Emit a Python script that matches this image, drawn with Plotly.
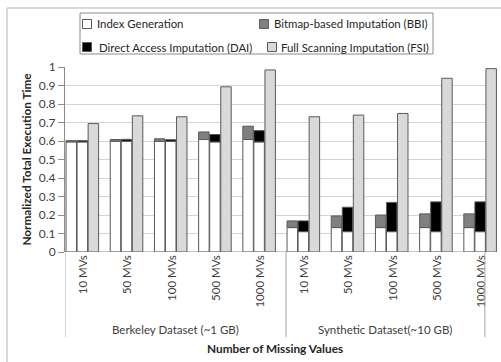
import plotly.graph_objects as go

# ---------------- data ----------------
groups = ["Berkeley Dataset (~1 GB)", "Synthetic Dataset(~10 GB)"]
categories = ["10 MVs", "50 MVs", "100 MVs", "500 MVs", "1000 MVs",
              "10 MVs", "50 MVs", "100 MVs", "500 MVs", "1000 MVs"]

# Index generation time underneath the BBI bar and the DAI bar
index_gen_bbi = [0.595, 0.599, 0.598, 0.608, 0.608, 0.132, 0.132, 0.132, 0.132, 0.132]
index_gen_dai = [0.595, 0.599, 0.598, 0.595, 0.595, 0.110, 0.110, 0.110, 0.110, 0.110]
# total heights of stacked bars
bbi_total = [0.602, 0.608, 0.612, 0.649, 0.680, 0.168, 0.195, 0.200, 0.206, 0.206]
dai_total = [0.602, 0.609, 0.607, 0.635, 0.656, 0.168, 0.242, 0.268, 0.271, 0.271]
fsi_total = [0.694, 0.736, 0.731, 0.893, 0.984, 0.731, 0.740, 0.749, 0.939, 0.991]

y_ticks = [0, 0.1, 0.2, 0.3, 0.4, 0.5, 0.6, 0.7, 0.8, 0.9, 1]
legend_names = ["Index Generation", "Bitmap-based Imputation (BBI)",
                "Direct Access Imputation (DAI)", "Full Scanning Imputation (FSI)"]

# ---------------- layout geometry ----------------
FW, FH = 501, 362
L, R, T, B = 65, 497, 67, 252
PW, PH = R - L, B - T
SLOT = 44.2                      # pixels per category slot
XMAX = PW / SLOT
BAR_W = 0.237
OFFS = [0.142, 0.392, 0.642]     # bar centres inside a slot
LABEL_OFF = 0.42
GROUP_EDGES = [0, 5, len(categories) - 0.5]

FONT = "Lato, 'Open Sans', sans-serif"
OUTLINE = "#5a5a5a"
COL_IG, COL_BBI, COL_DAI, COL_FSI = "#ffffff", "#808080", "#000000", "#d9d9d9"
AX = "#8c8c8c"
TXT = "#404040"
DARK = "#262626"

def xp(px):   # pixel x -> paper x
    return (px - L) / PW

def yp(py):   # pixel y -> paper y
    return (B - py) / PH

n = len(categories)
idx = list(range(n))
x_bbi = [i + OFFS[0] for i in idx]
x_dai = [i + OFFS[1] for i in idx]
x_fsi = [i + OFFS[2] for i in idx]

bbi_part = [t - b for t, b in zip(bbi_total, index_gen_bbi)]
dai_part = [t - b for t, b in zip(dai_total, index_gen_dai)]

line = dict(color=OUTLINE, width=1)
fig = go.Figure()
fig.add_bar(x=x_bbi, y=index_gen_bbi, width=BAR_W, name=legend_names[0],
            marker=dict(color=COL_IG, line=line), showlegend=False)
fig.add_bar(x=x_bbi, y=bbi_part, base=index_gen_bbi, width=BAR_W, name=legend_names[1],
            marker=dict(color=COL_BBI, line=line), showlegend=False)
fig.add_bar(x=x_dai, y=index_gen_dai, width=BAR_W, name=legend_names[0],
            marker=dict(color=COL_IG, line=line), showlegend=False)
fig.add_bar(x=x_dai, y=dai_part, base=index_gen_dai, width=BAR_W, name=legend_names[2],
            marker=dict(color=COL_DAI, line=line), showlegend=False)
fig.add_bar(x=x_fsi, y=fsi_total, width=BAR_W, name=legend_names[3],
            marker=dict(color=COL_FSI, line=line), showlegend=False)

shapes = []
annotations = []

# chart outer border (cropped on right/bottom)
shapes.append(dict(type="line", xref="paper", yref="paper", x0=xp(7), x1=xp(FW + 5),
                   y0=yp(8), y1=yp(8), line=dict(color="#b3b3b3", width=1)))
shapes.append(dict(type="line", xref="paper", yref="paper", x0=xp(7), x1=xp(7),
                   y0=yp(8), y1=yp(FH + 5), line=dict(color="#b3b3b3", width=1)))

# category axis line and group dividers
shapes.append(dict(type="line", xref="x", yref="y", x0=0, x1=GROUP_EDGES[-1], y0=0, y1=0,
                   line=dict(color=AX, width=1)))
for e in GROUP_EDGES:
    shapes.append(dict(type="line", xref="x", yref="paper", x0=e, x1=e,
                       y0=0, y1=yp(337), line=dict(color="#a6a6a6", width=1)))

# group labels
for gi, g in enumerate(groups):
    cx = (GROUP_EDGES[gi] + GROUP_EDGES[gi + 1]) / 2
    annotations.append(dict(text=g, x=cx, y=yp(329), xref="x", yref="paper",
                            showarrow=False, xanchor="center", yanchor="middle",
                            font=dict(family=FONT, size=11.5, color=TXT)))
# x-axis title
annotations.append(dict(text="<b>Number of Missing Values</b>", x=GROUP_EDGES[-1] / 2,
                        y=yp(348), xref="x", yref="paper", showarrow=False,
                        xanchor="center", yanchor="middle",
                        font=dict(family=FONT, size=11.8, color=DARK)))

# legend (drawn manually to match the compact original)
shapes.append(dict(type="rect", xref="paper", yref="paper", x0=xp(80), x1=xp(433),
                   y0=yp(13), y1=yp(54), line=dict(color="#8c8c8c", width=1),
                   fillcolor="white"))
leg_items = [
    (legend_names[0], COL_IG, 87, 24, 95),
    (legend_names[1], COL_BBI, 264, 24, 272),
    (legend_names[2], COL_DAI, 87, 47, 97),
    (legend_names[3], COL_FSI, 272, 47, 279),
]
for name, col, sx, sy, tx in leg_items:
    shapes.append(dict(type="rect", xref="paper", yref="paper",
                       x0=xp(sx - 4.5), x1=xp(sx + 4.5), y0=yp(sy + 4.5), y1=yp(sy - 4.5),
                       fillcolor=col, line=dict(color=OUTLINE, width=1)))
    annotations.append(dict(text=name, x=xp(tx), y=yp(sy), xref="paper", yref="paper",
                            showarrow=False, xanchor="left", yanchor="middle",
                            font=dict(family=FONT, size=11.4, color=DARK)))

fig.update_layout(
    width=FW, height=FH,
    margin=dict(l=L, r=FW - R, t=T, b=FH - B, pad=0),
    barmode="overlay",
    plot_bgcolor="white", paper_bgcolor="white",
    font=dict(family=FONT, size=11.5, color=TXT),
    shapes=shapes, annotations=annotations,
    showlegend=False,
    xaxis=dict(range=[0, XMAX], tickmode="array",
               tickvals=[i + LABEL_OFF for i in idx], ticktext=categories,
               tickangle=-90, ticks="", showgrid=False, zeroline=False, showline=False,
               tickfont=dict(family=FONT, size=11.5, color=TXT)),
    yaxis=dict(range=[0, 1], tickmode="array", tickvals=y_ticks,
               ticktext=[f"{v:g}" for v in y_ticks],
               showgrid=True, gridcolor="#d4d4d4", gridwidth=1, zeroline=False,
               showline=True, linecolor=AX, linewidth=1,
               ticks="outside", ticklen=6, tickcolor=AX,
               tickfont=dict(family=FONT, size=12, color=TXT),
               title=dict(text="<b>Normalized Total Execution Time</b>", standoff=4,
                          font=dict(family=FONT, size=11.8, color=DARK))),
)

fig.write_html("out.html", config={"displayModeBar": False},
               post_script="document.body.style.margin='0';document.body.style.padding='0';")
